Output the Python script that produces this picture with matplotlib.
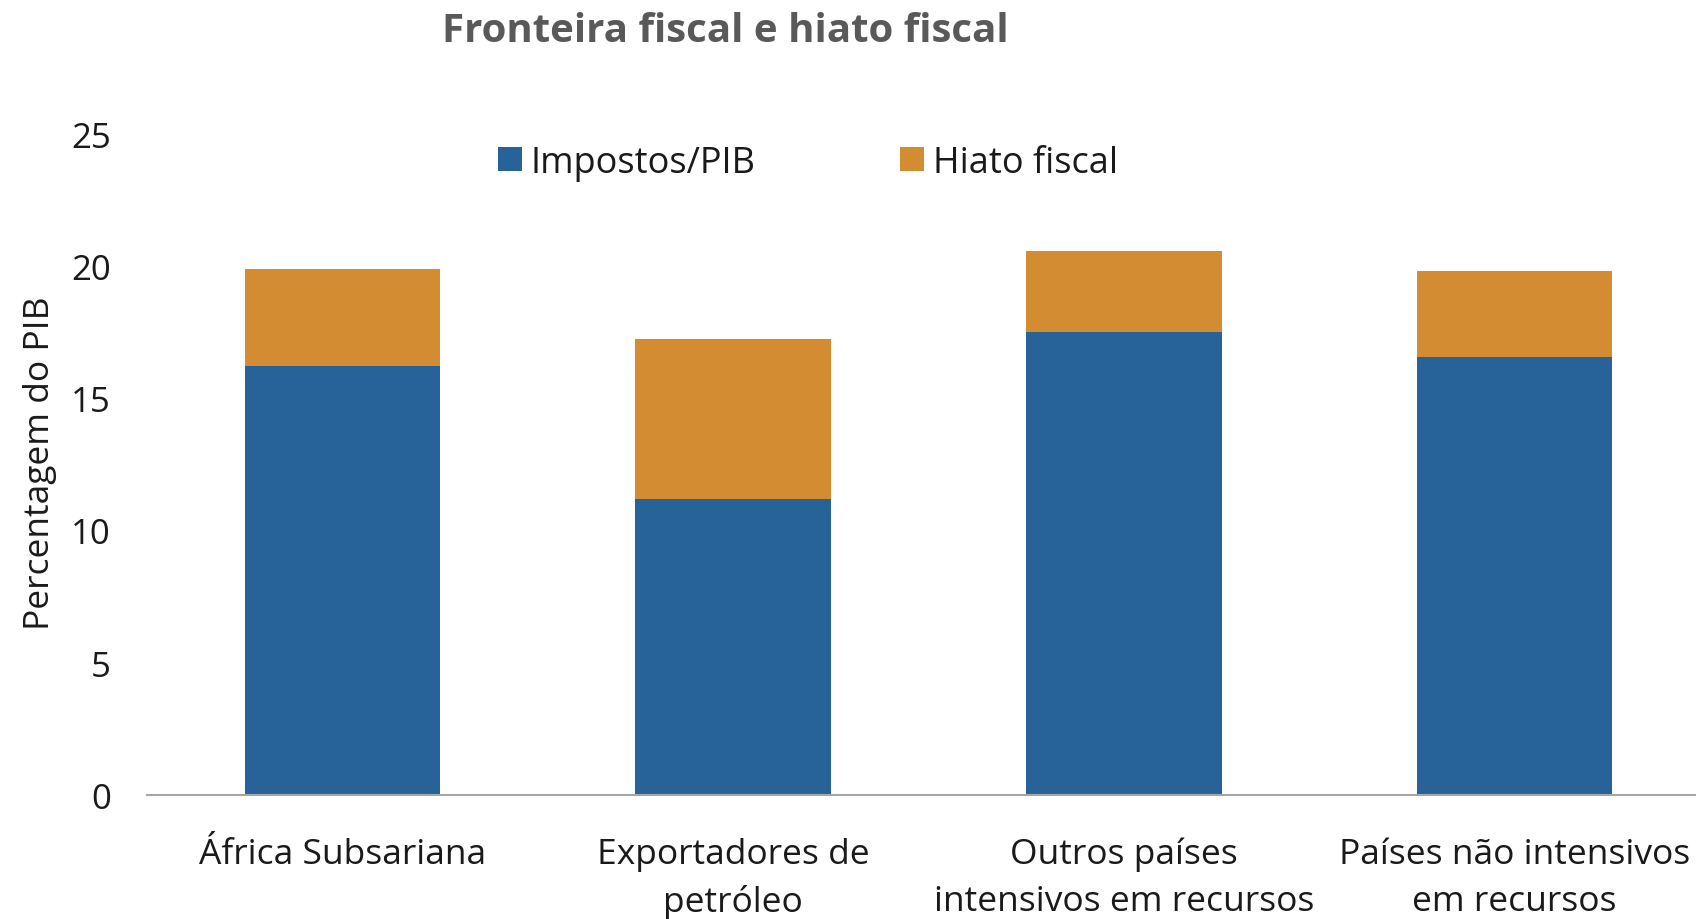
import matplotlib
matplotlib.use("Agg")
import matplotlib.pyplot as plt
import numpy as np

plt.rcParams['font.family'] = ['Open Sans', 'DejaVu Sans']

categories = ['África Subsariana', 'Exportadores de\npetróleo',
              'Outros países\nintensivos em recursos', 'Países não intensivos\nem recursos']
impostos = [16.2, 11.2, 17.5, 16.55]
hiato = [3.67, 6.05, 3.05, 3.27]

blue = '#276399'
orange = '#D38C31'

fig = plt.figure(figsize=(16.96, 9.2), dpi=100)
ax = fig.add_axes([147 / 1696, 124 / 920, (1710 - 147) / 1696, (796 - 134.5) / 920])

x = np.arange(len(categories))
ax.bar(x, impostos, width=0.5, color=blue, label='Impostos/PIB')
ax.bar(x, hiato, width=0.5, bottom=impostos, color=orange, label='Hiato fiscal')

ax.set_xlim(-0.5, 3.5)
ax.set_ylim(0, 25)
ax.set_yticks([0, 5, 10, 15, 20, 25])
ax.set_xticks(x)
ax.set_xticklabels(categories, fontsize=25.5, color='#1a1a1a', linespacing=1.5)
ax.tick_params(axis='y', length=0, pad=26, labelsize=25, labelcolor='#1a1a1a')
ax.tick_params(axis='x', length=0, pad=30)

for s in ['top', 'right', 'left']:
    ax.spines[s].set_visible(False)
ax.spines['bottom'].set_color('#a6a6a6')
ax.spines['bottom'].set_linewidth(1.5)

ax.set_ylabel('Percentagem do PIB', fontsize=25.5, color='#1a1a1a', va='center')
ax.yaxis.set_label_coords(40 / 1696, (920 - 463) / 920, transform=fig.transFigure)

fig.text(725 / 1696, 1 - 31 / 920, 'Fronteira fiscal e hiato fiscal', fontsize=29,
         fontweight='bold', color='#595959', ha='center', va='center')

fig.legend(loc='center', bbox_to_anchor=(808 / 1696, 1 - 164 / 920), ncol=2, frameon=False,
           fontsize=26, handlelength=0.65, handleheight=0.65, handletextpad=0.25,
           columnspacing=4.0, labelcolor='#1a1a1a')

fig.savefig('out.png', dpi=100)
